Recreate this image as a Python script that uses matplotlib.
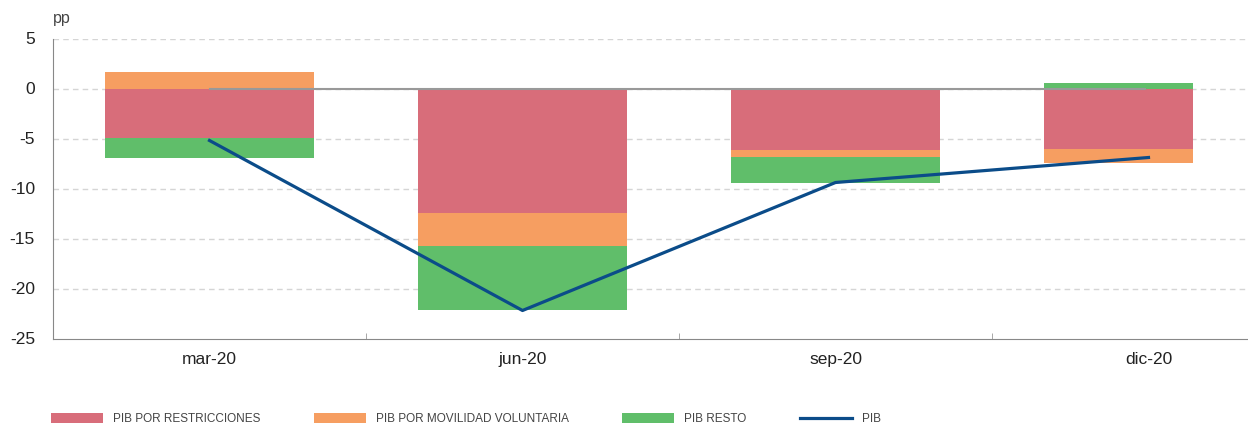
import numpy as np
import matplotlib
matplotlib.use("Agg")
import matplotlib.pyplot as plt

# ----- data (pp) -----
periods = ["mar-20", "jun-20", "sep-20", "dic-20"]
restricciones = [-4.9, -12.4, -6.1, -6.0]
movilidad = [1.7, -3.3, -0.7, -1.4]
resto = [-2.0, -6.4, -2.6, 0.55]
pib = [-5.2, -22.2, -9.4, -6.9]

labels = ["PIB POR RESTRICCIONES", "PIB POR MOVILIDAD VOLUNTARIA", "PIB RESTO", "PIB"]
colors = ["#D86D7A", "#F69E61", "#60BE6A", "#0B4C89"]

plt.rcParams['font.family'] = ['Liberation Sans', 'DejaVu Sans']

fig = plt.figure(figsize=(12.48, 4.28), dpi=100)
ax = fig.add_axes([53 / 1248, 89.5 / 428, 1195 / 1248, 300 / 428])

x = np.arange(len(periods))
# last bar is cut short in the original
widths = np.array([0.668, 0.668, 0.668, 0.476])
lefts = x - 0.334


def stack(values, pos_base, neg_base):
    values = np.array(values)
    bottoms = np.where(values >= 0, pos_base, neg_base)
    pos_base = pos_base + np.where(values >= 0, values, 0)
    neg_base = neg_base + np.where(values < 0, values, 0)
    return bottoms, pos_base, neg_base


pos = np.zeros(len(x))
neg = np.zeros(len(x))
handles = []
for vals, col, lab in zip([restricciones, movilidad, resto], colors[:3], labels[:3]):
    bottoms, pos, neg = stack(vals, pos, neg)
    h = ax.bar(lefts, vals, widths, bottom=bottoms, align='edge', color=col,
               label=lab, zorder=2)
    handles.append(h)

# zero reference line between categories
ax.plot(x[:-1].tolist() + [2.99], np.zeros(len(x)), color="#999999", lw=1.5, zorder=3)
line, = ax.plot(x, pib, color=colors[3], lw=2.3, label=labels[3], zorder=4)
handles.append(line)

ax.set_xlim(-0.5, -0.5 + 1195 / 313)
ax.set_ylim(-25, 5)
ax.set_yticks(np.arange(-25, 6, 5))
ax.set_yticklabels([str(v) for v in range(-25, 6, 5)])
ax.set_xticks(x)
ax.set_xticklabels(periods)
ax.set_xticks([0.5, 1.5, 2.5], minor=True)
ax.tick_params(axis='x', which='major', length=0, pad=10, labelsize=12.5, labelcolor="#222222")
ax.tick_params(axis='x', which='minor', direction='in', length=4, color="#999999")
ax.tick_params(axis='y', length=0, pad=13, labelsize=12.5, labelcolor="#222222")

for v in range(-20, 6, 5):
    ax.axhline(v, color="#d5d5d5", lw=1, ls=(0, (4, 3)), zorder=0)

for s in ["top", "right"]:
    ax.spines[s].set_visible(False)
ax.spines["left"].set_color("#888888")
ax.spines["bottom"].set_color("#888888")

fig.text(53 / 1248, 405 / 428, "pp", fontsize=11.5, color="#444444", va='baseline')

fig.legend(handles=handles, labels=labels, loc='center left', ncol=4,
           bbox_to_anchor=(40 / 1248, 9 / 428), frameon=False,
           handlelength=4.4, handleheight=0.9, handletextpad=0.85, columnspacing=4.55,
           prop={'size': 8.5}, labelcolor="#444444")

fig.savefig("out.png", dpi=100)
